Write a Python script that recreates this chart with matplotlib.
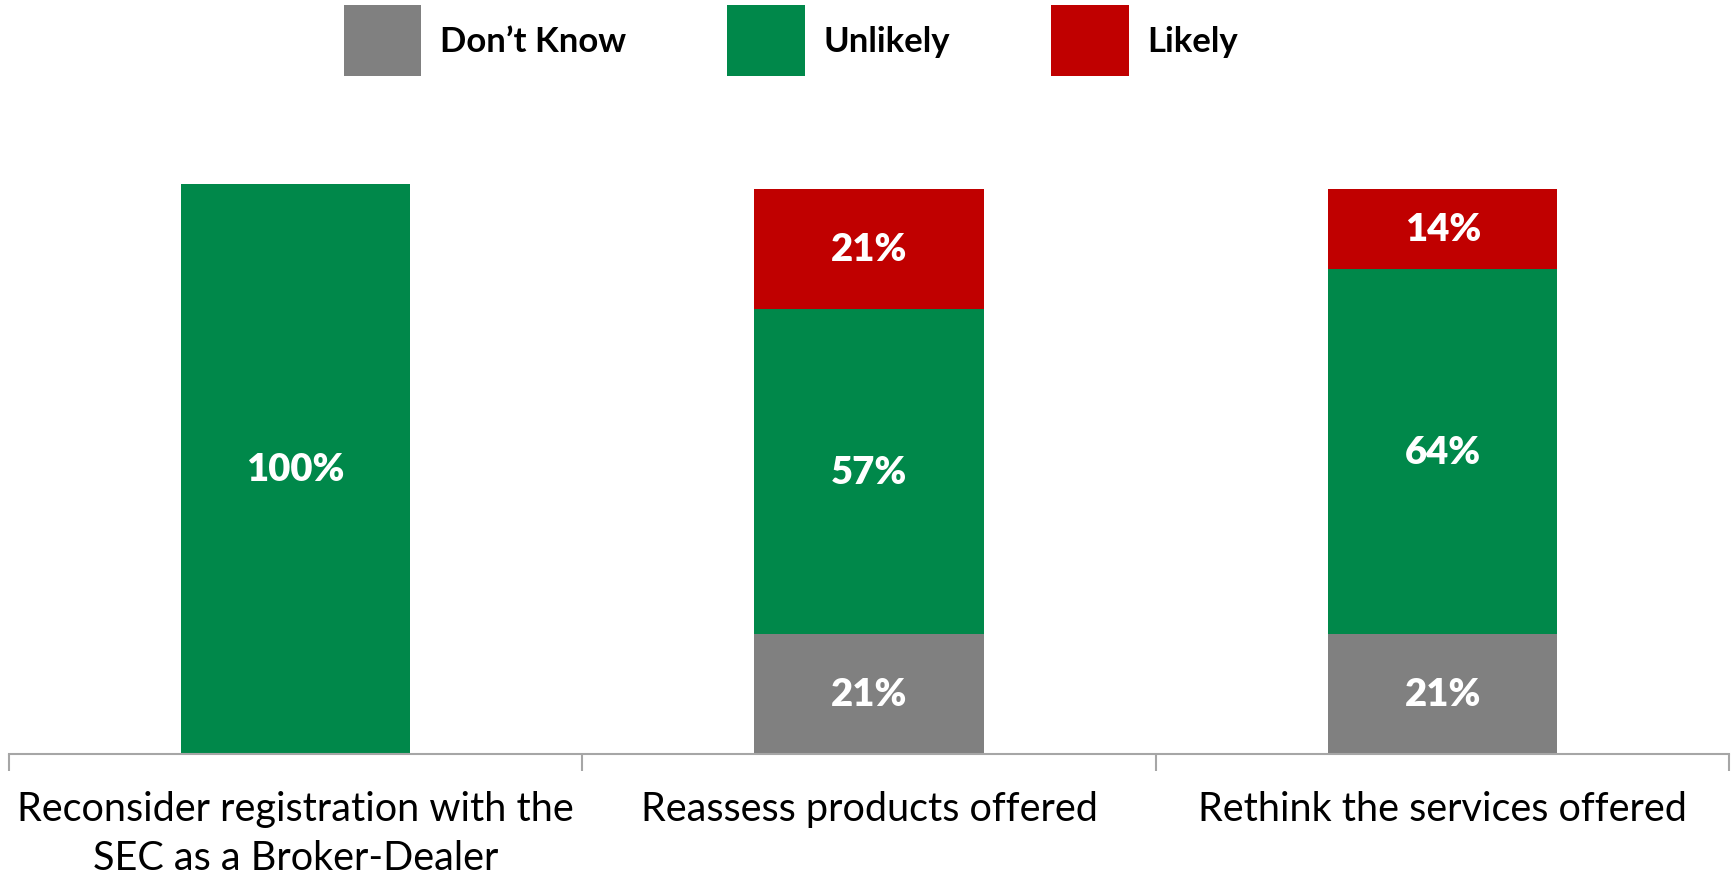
import numpy as np
import matplotlib.pyplot as plt
from matplotlib.patches import Patch

categories = ["Reconsider registration with the\nSEC as a Broker-Dealer",
              "Reassess products offered",
              "Rethink the services offered"]
dont_know = [0, 21, 21]
unlikely = [100, 57, 64]
likely = [0, 21, 14]

series = [("Don\u2019t Know", dont_know, "#808080"),
          ("Unlikely", unlikely, "#00884A"),
          ("Likely", likely, "#C00000")]

plt.rcParams['font.family'] = ['Lato', 'DejaVu Sans']

fig = plt.figure(figsize=(17.35, 8.79), dpi=100)
ax = fig.add_axes([0.0051, 0.141, 0.9917, 0.649])

x = np.arange(len(categories))
bottom = np.zeros(len(categories))
handles = []
for name, vals, color in series:
    vals = np.array(vals, dtype=float)
    ax.bar(x, vals, width=0.4, bottom=bottom, color=color)
    for xi, b, v in zip(x, bottom, vals):
        if v > 0:
            ax.text(xi, b + v / 2, f"{int(v)}%", ha='center', va='center',
                    color='white', fontsize=27.5, fontweight='heavy')
    bottom += vals
    handles.append(Patch(facecolor=color, label=name))

ax.set_xlim(-0.5, 2.5)
ax.set_ylim(0, 100)
ax.set_yticks([])
for s in ['top', 'right', 'left']:
    ax.spines[s].set_visible(False)
ax.spines['bottom'].set_color('#A6A6A6')
ax.spines['bottom'].set_linewidth(1.5)

ax.set_xticks(x)
ax.set_xticklabels(categories, fontsize=28.5, linespacing=1.38)
ax.tick_params(axis='x', which='major', length=0, pad=26)
ax.set_xticks([-0.5, 0.5, 1.5, 2.5], minor=True)
ax.tick_params(axis='x', which='minor', length=12, width=1.5, color='#A6A6A6')

fig.legend(handles=handles, loc='center', bbox_to_anchor=(0.456, 0.953),
           ncol=3, frameon=False, prop={'size': 25, 'weight': 'bold'},
           handlelength=2.23, handleheight=2.75, handletextpad=0.55,
           columnspacing=2.9)

fig.savefig('out.png', dpi=100)
